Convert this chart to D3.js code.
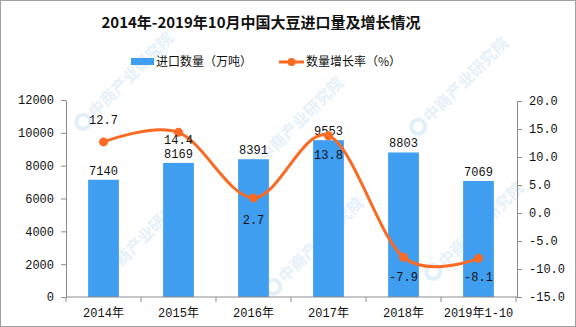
<!DOCTYPE html>
<html>
<head>
<meta charset="utf-8">
<script src="https://cdn.jsdelivr.net/npm/d3@7"></script>
<style>
  html, body { margin: 0; padding: 0; background: #fff; }
  svg { display: block; }
</style>
</head>
<body>
<svg id="chart" width="576" height="327"></svg>
<script>
// ---- data ----
const categories = ["2014年", "2015年", "2016年", "2017年", "2018年", "2019年1-10"];
const importVolume = [7140, 8169, 8391, 9553, 8803, 7069];      // 万吨
const growthRate = [12.7, 14.4, 2.7, 13.8, -7.9, -8.1];          // %
const leftTicks = [0, 2000, 4000, 6000, 8000, 10000, 12000];
const rightTicks = [-15, -10, -5, 0, 5, 10, 15, 20];
const titleText = "2014年-2019年10月中国大豆进口量及增长情况";
const legendBar = "进口数量（万吨）";
const legendLine = "数量增长率（%）";
const watermark = "中商产业研究院";

// ---- layout (not data) ----
const W = 576, H = 327;
const plot = { left: 66, right: 516, top: 100, bottom: 297 };
const rateLabelDy = [-18, 12, 26, 23, 24, 23];
const BLUE = "#3f9ef0", ORANGE = "#fb6a22", AXIS = "#8c8c8c";
const NUMFONT = "'Liberation Mono', 'Noto Sans CJK SC', monospace";
const CJKFONT = "'Noto Sans CJK SC', sans-serif";

const svg = d3.select("#chart");

// watermark (faint)
const wm = svg.append("g").attr("class", "watermark");
const wmPos = [[120, 85], [290, 130], [455, 90], [135, 245], [310, 250], [470, 235]];
wmPos.forEach(([x, y]) => {
  const g = wm.append("g").attr("transform", `translate(${x},${y}) rotate(-45)`);
  g.append("circle").attr("cx", -52).attr("cy", 0).attr("r", 7)
    .attr("fill", "none").attr("stroke", "#e2eef8").attr("stroke-width", 4);
  g.append("text").attr("x", -41).attr("y", 6).text(watermark)
    .attr("font-family", CJKFONT).attr("font-size", 16).attr("font-weight", "bold")
    .attr("fill", "#e6f0f9");
});

// border
svg.append("rect").attr("x", 0.5).attr("y", 0.5).attr("width", W - 1).attr("height", H - 1)
  .attr("fill", "none").attr("stroke", "#a0a0a0");

// scales
const x = d3.scaleBand().domain(categories).range([plot.left, plot.right]).padding(0);
const yL = d3.scaleLinear().domain([0, 12000]).range([plot.bottom, plot.top]);
const yR = d3.scaleLinear().domain([-15, 20]).range([plot.bottom, plot.top + 1]);
const barW = x.bandwidth() * 0.41;
const cx = c => x(c) + x.bandwidth() / 2;

// title
svg.append("text").attr("x", 261).attr("y", 28).attr("text-anchor", "middle")
  .attr("font-family", CJKFONT).attr("font-weight", "bold").attr("font-size", 15)
  .attr("fill", "#111").text(titleText);

// legend
const lg = svg.append("g").attr("font-family", CJKFONT).attr("font-size", 12).attr("fill", "#111");
lg.append("rect").attr("x", 131).attr("y", 58).attr("width", 23).attr("height", 7).attr("fill", BLUE);
lg.append("text").attr("x", 156).attr("y", 66).text(legendBar);
lg.append("line").attr("x1", 279).attr("x2", 304).attr("y1", 62).attr("y2", 62)
  .attr("stroke", ORANGE).attr("stroke-width", 3);
lg.append("circle").attr("cx", 291.5).attr("cy", 62).attr("r", 4).attr("fill", ORANGE);
lg.append("text").attr("x", 306).attr("y", 66).text(legendLine);

// bars
svg.append("g").selectAll("rect").data(categories).join("rect")
  .attr("x", (c) => cx(c) - barW / 2)
  .attr("y", (c, i) => yL(importVolume[i]))
  .attr("width", barW)
  .attr("height", (c, i) => yL(0) - yL(importVolume[i]))
  .attr("fill", BLUE);

// axes
function styleAxis(g) {
  g.selectAll(".domain").attr("stroke", AXIS);
  g.selectAll(".tick line").attr("stroke", AXIS);
  g.selectAll(".tick text").attr("fill", "#111").attr("font-family", NUMFONT).attr("font-size", 12);
}
const axL = d3.axisLeft(yL).tickValues(leftTicks).tickSize(5).tickSizeOuter(0).tickPadding(7)
  .tickFormat(d => String(d));
svg.append("g").attr("transform", `translate(${plot.left},0)`).call(axL).call(styleAxis);

const axR = d3.axisRight(yR).tickValues(rightTicks).tickSize(5).tickSizeOuter(0).tickPadding(7)
  .tickFormat(d => d.toFixed(1));
svg.append("g").attr("transform", `translate(${plot.right + 1},0)`).call(axR).call(styleAxis);

// bottom axis
const bx = svg.append("g").attr("transform", `translate(0,${plot.bottom})`);
bx.append("line").attr("x1", plot.left).attr("x2", plot.right + 1).attr("y1", 0).attr("y2", 0).attr("stroke", AXIS);
const bounds = categories.map(c => x(c)).concat([plot.right]);
bx.selectAll("line.tk").data(bounds).join("line").attr("class", "tk")
  .attr("x1", d => d).attr("x2", d => d).attr("y1", 0).attr("y2", 5).attr("stroke", AXIS);
bx.selectAll("text").data(categories).join("text")
  .attr("x", c => cx(c)).attr("y", 20).attr("text-anchor", "middle")
  .attr("font-family", NUMFONT).attr("font-size", 12).attr("fill", "#111").text(c => c);

// bar value labels
svg.append("g").selectAll("text").data(categories).join("text")
  .attr("x", c => cx(c)).attr("y", (c, i) => yL(importVolume[i]) - 5)
  .attr("text-anchor", "middle").attr("font-family", NUMFONT).attr("font-size", 12).attr("fill", "#111")
  .text((c, i) => importVolume[i]);

// line
const pts = categories.map((c, i) => [cx(c), yR(growthRate[i])]);
svg.append("path").attr("d", d3.line().curve(d3.curveCardinal.tension(0))(pts))
  .attr("fill", "none").attr("stroke", ORANGE).attr("stroke-width", 3);
svg.append("g").selectAll("circle").data(pts).join("circle")
  .attr("cx", d => d[0]).attr("cy", d => d[1]).attr("r", 4.5).attr("fill", ORANGE);

// rate labels
svg.append("g").selectAll("text").data(categories).join("text")
  .attr("x", c => cx(c)).attr("y", (c, i) => yR(growthRate[i]) + rateLabelDy[i])
  .attr("text-anchor", "middle").attr("font-family", NUMFONT).attr("font-size", 12).attr("fill", "#111")
  .text((c, i) => growthRate[i].toFixed(1));
</script>
</body>
</html>
